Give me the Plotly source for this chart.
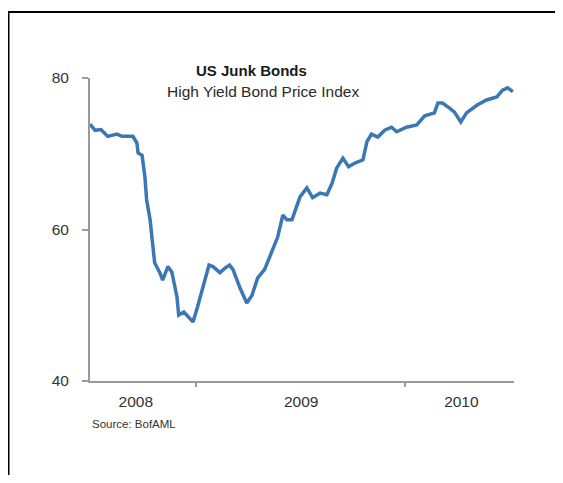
import plotly.graph_objects as go

dates = [
    "2008-06-30", "2008-07-09", "2008-07-19", "2008-07-31", "2008-08-16", "2008-08-25",
    "2008-09-13", "2008-09-20", "2008-09-22", "2008-09-29", "2008-10-04", "2008-10-07",
    "2008-10-13", "2008-10-16", "2008-10-18", "2008-10-21", "2008-10-30", "2008-11-04",
    "2008-11-13", "2008-11-20", "2008-11-29", "2008-12-02", "2008-12-11", "2008-12-18",
    "2008-12-27", "2009-01-04", "2009-01-13", "2009-01-24", "2009-01-31", "2009-02-12",
    "2009-02-21", "2009-03-01", "2009-03-07", "2009-03-19", "2009-03-31", "2009-04-09",
    "2009-04-19", "2009-05-01", "2009-05-15", "2009-05-24", "2009-06-02", "2009-06-09",
    "2009-06-18", "2009-07-02", "2009-07-14", "2009-07-24", "2009-08-06", "2009-08-18",
    "2009-08-27", "2009-09-04", "2009-09-15", "2009-09-25", "2009-10-07", "2009-10-20",
    "2009-10-27", "2009-11-04", "2009-11-15", "2009-11-27", "2009-12-09", "2009-12-18",
    "2010-01-04", "2010-01-22", "2010-02-05", "2010-02-22", "2010-02-28", "2010-03-08",
    "2010-03-21", "2010-03-29", "2010-04-09", "2010-04-19", "2010-05-07", "2010-05-24",
    "2010-06-11", "2010-06-21", "2010-06-30", "2010-07-09",
]
index_values = [
    73.9, 73.1, 73.2, 72.3, 72.6, 72.3,
    72.3, 71.4, 70.1, 69.8, 66.9, 63.9,
    61.3, 59.0, 56.9, 55.6, 54.3, 53.3,
    55.1, 54.4, 51.1, 48.7, 49.1, 48.5,
    47.8, 49.8, 52.4, 55.3, 55.1, 54.3,
    54.9, 55.3, 54.7, 52.3, 50.3, 51.3,
    53.6, 54.7, 57.3, 59.0, 61.9, 61.3,
    61.3, 64.3, 65.5, 64.2, 64.8, 64.6,
    66.1, 68.1, 69.4, 68.3, 68.8, 69.2,
    71.6, 72.6, 72.2, 73.1, 73.5, 72.9,
    73.5, 73.8, 75.0, 75.4, 76.7, 76.7,
    76.0, 75.5, 74.2, 75.4, 76.4, 77.1,
    77.5, 78.4, 78.7, 78.2,
]

year_labels = ["2008", "2009", "2010"]
year_label_dates = ["2008-09-18", "2009-07-04", "2010-04-10"]
year_boundaries = ["2009-01-01", "2010-01-01"]
y_ticks = [40, 60, 80]

title_text = "US Junk Bonds"
subtitle_text = "High Yield Bond Price Index"
source_text = "Source: BofAML"

FONT = "Liberation Sans, Arial, sans-serif"
AXIS_GREY = "#9a9a9a"

fig = go.Figure()
fig.add_trace(go.Scatter(
    x=dates, y=index_values, mode="lines",
    line=dict(color="#3B77B3", width=3.5),
    hoverinfo="x+y", showlegend=False,
))

fig.update_layout(
    width=555, height=467,
    margin=dict(l=82, r=49, t=70, b=94),
    paper_bgcolor="white", plot_bgcolor="white",
    font=dict(family=FONT, color="#333333", size=15),
    showlegend=False,
    xaxis=dict(
        type="date",
        range=["2008-06-30", "2010-07-11"],
        showgrid=False, zeroline=False,
        showline=True, linecolor=AXIS_GREY, linewidth=2,
        tickmode="array", tickvals=year_label_dates, ticktext=year_labels,
        ticks="", ticklabelstandoff=5,
        tickfont=dict(size=15.5, color="#333333"),
        minor=dict(tickmode="array", tickvals=year_boundaries, ticks="outside",
                   ticklen=4, tickcolor=AXIS_GREY, tickwidth=1.5, showgrid=False),
    ),
    yaxis=dict(
        range=[40, 80],
        showgrid=False, zeroline=False,
        showline=True, linecolor=AXIS_GREY, linewidth=2,
        tickmode="array", tickvals=y_ticks, ticktext=[str(v) for v in y_ticks],
        ticks="outside", ticklen=6, tickcolor=AXIS_GREY, tickwidth=1.5,
        ticklabelstandoff=10,
        tickfont=dict(size=15.5, color="#333333"),
    ),
    annotations=[
        dict(text="<b>" + title_text + "</b>", xref="paper", yref="paper",
             x=0.382, y=1.026, xanchor="center", yanchor="middle", showarrow=False,
             font=dict(size=15, color="#1a1a1a", family=FONT)),
        dict(text=subtitle_text, xref="paper", yref="paper",
             x=0.408, y=0.954, xanchor="center", yanchor="middle", showarrow=False,
             font=dict(size=15.5, color="#2a2a2a", family=FONT)),
        dict(text=source_text, xref="paper", yref="paper",
             x=0.0, y=-0.142, xanchor="left", yanchor="middle", showarrow=False,
             font=dict(size=11.5, color="#333333", family=FONT)),
    ],
    shapes=[
        dict(type="rect", xref="paper", yref="paper",
             x0=-0.1922, x1=1.3, y0=-0.5, y1=1.218,
             line=dict(color="black", width=2), fillcolor="rgba(0,0,0,0)", layer="below"),
    ],
)

fig.write_html("out.html")
